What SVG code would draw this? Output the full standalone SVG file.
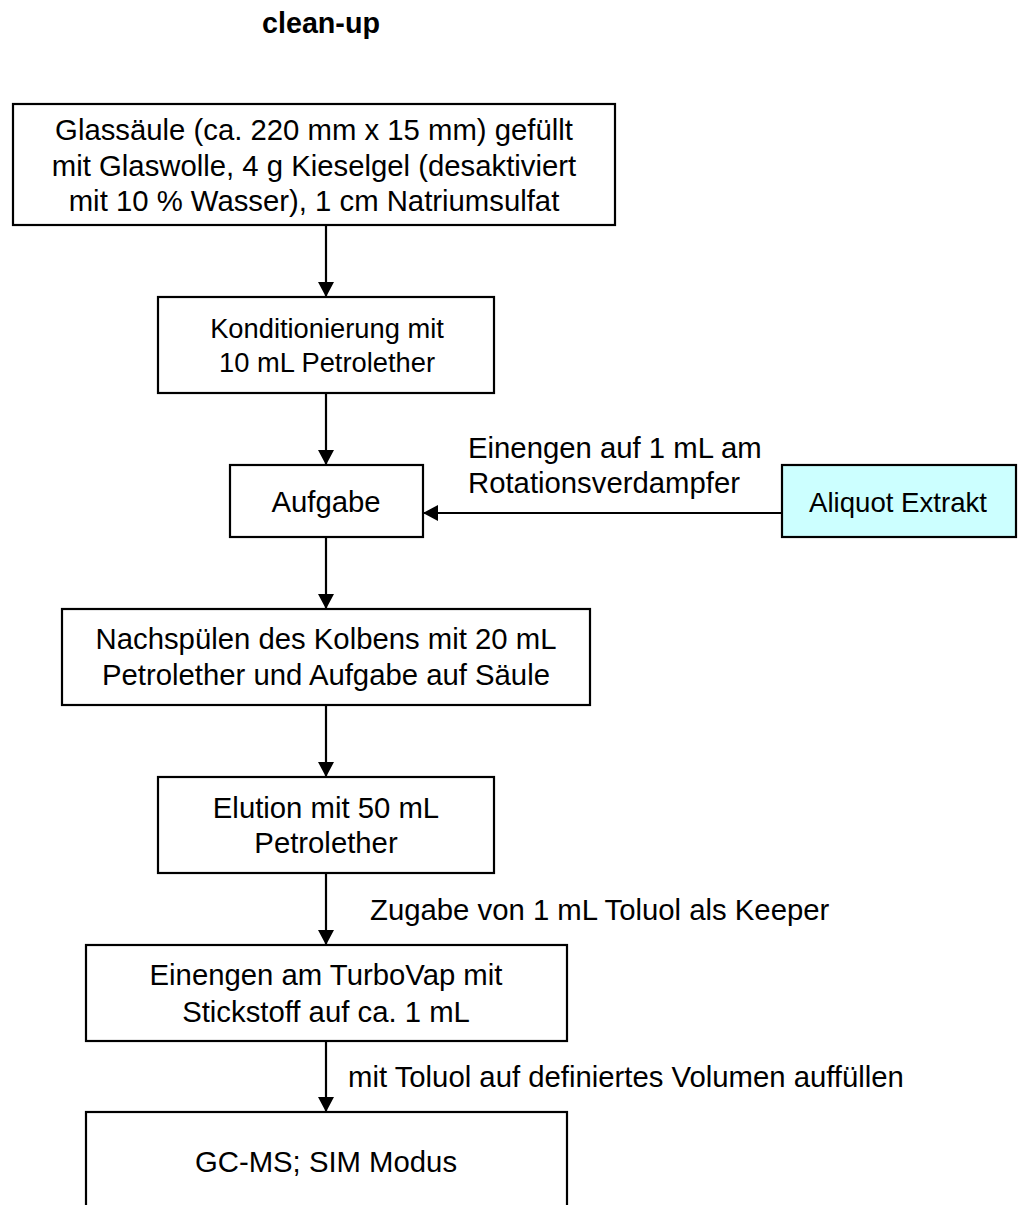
<svg xmlns="http://www.w3.org/2000/svg" width="1018" height="1205" viewBox="0 0 1018 1205">
<defs>
<style>
.box{fill:#ffffff;stroke:#000000;stroke-width:2.2}
.cyan{fill:#ccffff}
.t{font-family:"Liberation Sans",Arial,sans-serif;font-size:29.3px;fill:#000000}
.s{font-size:27.3px}
.c{text-anchor:middle}
.title{font-weight:bold;font-size:28.7px}
.conn{stroke:#000000;stroke-width:2.2;fill:none;marker-end:url(#ah)}
</style>
<marker id="ah" markerUnits="userSpaceOnUse" markerWidth="16" markerHeight="16" refX="15" refY="8" orient="auto">
<path d="M0,0 L15,8 L0,16 Z" fill="#000000"/>
</marker>
</defs>
<rect width="1018" height="1205" fill="#ffffff"/>
<text class="t c title" x="321" y="33">clean-up</text>
<g id="connectors">
<line class="conn" x1="326" y1="225" x2="326" y2="297"/>
<line class="conn" x1="326" y1="393" x2="326" y2="465"/>
<line class="conn" x1="782" y1="513" x2="423" y2="513"/>
<line class="conn" x1="326" y1="537" x2="326" y2="609"/>
<line class="conn" x1="326" y1="705" x2="326" y2="777"/>
<line class="conn" x1="326" y1="873" x2="326" y2="945"/>
<line class="conn" x1="326" y1="1041" x2="326" y2="1112"/>
<text class="t" x="468" y="458">Einengen auf 1 mL am</text>
<text class="t" x="468" y="493">Rotationsverdampfer</text>
<text class="t" x="370" y="920">Zugabe von 1 mL Toluol als Keeper</text>
<text class="t" x="348" y="1087">mit Toluol auf definiertes Volumen auffüllen</text>
</g>
<g id="n1">
<rect class="box" x="13" y="104" width="602" height="121"/>
<text class="t c" x="314" y="140">Glassäule (ca. 220 mm x 15 mm) gefüllt</text>
<text class="t c" x="314" y="176">mit Glaswolle, 4 g Kieselgel (desaktiviert</text>
<text class="t c" x="314" y="211">mit 10 % Wasser), 1 cm Natriumsulfat</text>
</g>
<g id="n2">
<rect class="box" x="158" y="297" width="336" height="96"/>
<text class="t s c" x="327" y="338">Konditionierung mit</text>
<text class="t s c" x="327" y="372">10 mL Petrolether</text>
</g>
<g id="n3">
<rect class="box" x="230" y="465" width="193" height="72"/>
<text class="t c" x="326" y="512">Aufgabe</text>
</g>
<g id="n4">
<rect class="box cyan" x="782" y="465" width="234" height="72"/>
<text class="t c" x="898" y="512" style="font-size:27.6px">Aliquot Extrakt</text>
</g>
<g id="n5">
<rect class="box" x="62" y="609" width="528" height="96"/>
<text class="t c" x="326" y="649">Nachspülen des Kolbens mit 20 mL</text>
<text class="t c" x="326" y="685">Petrolether und Aufgabe auf Säule</text>
</g>
<g id="n6">
<rect class="box" x="158" y="777" width="336" height="96"/>
<text class="t c" x="326" y="818">Elution mit 50 mL</text>
<text class="t c" x="326" y="853">Petrolether</text>
</g>
<g id="n7">
<rect class="box" x="86" y="945" width="481" height="96"/>
<text class="t c" x="326" y="985">Einengen am TurboVap mit</text>
<text class="t c" x="326" y="1022">Stickstoff auf ca. 1 mL</text>
</g>
<g id="n8">
<rect class="box" x="86" y="1112" width="481" height="110"/>
<text class="t c" x="326" y="1172">GC-MS; SIM Modus</text>
</g>
</svg>
